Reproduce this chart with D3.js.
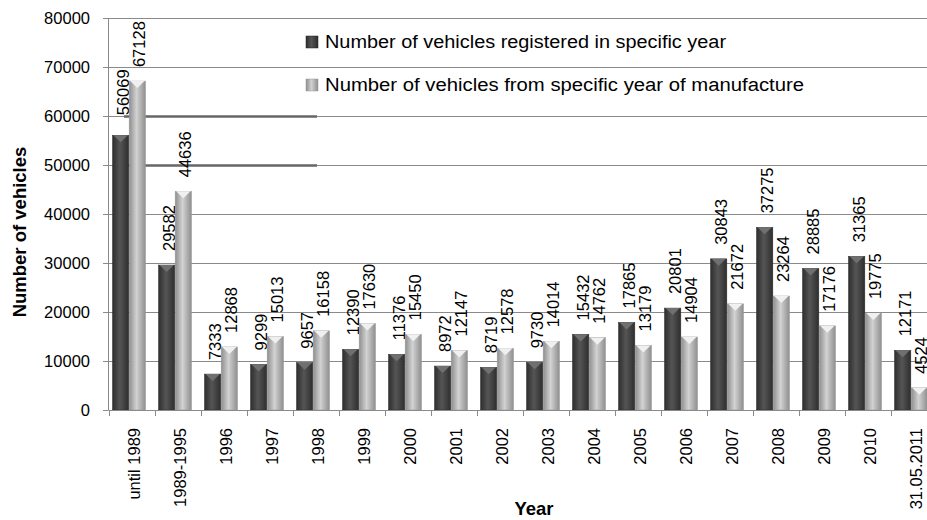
<!DOCTYPE html>
<html lang="en">
<head>
<meta charset="UTF-8">
<title>Number of vehicles</title>
<script src="https://cdn.jsdelivr.net/npm/d3@7"></script>
<style>
  body { margin: 0; background: #fff; }
  text { font-family: "Liberation Sans", Arial, sans-serif; fill: #000; }
</style>
</head>
<body>
<div id="chart"></div>
<script>
// data
var years = ["until 1989", "1989-1995", "1996", "1997", "1998", "1999", "2000", "2001", "2002",
  "2003", "2004", "2005", "2006", "2007", "2008", "2009", "2010", "31.05.2011"];
var registered = [56069, 29582, 7333, 9299, 9657, 12390, 11376, 8972, 8719, 9730, 15432,
  17865, 20801, 30843, 37275, 28885, 31365, 12171];
var manufactured = [67128, 44636, 12868, 15013, 16158, 17630, 15450, 12147, 12578, 14014,
  14762, 13179, 14904, 21672, 23264, 17176, 19775, 4524];
var seriesNames = ["Number of vehicles registered in specific year",
  "Number of vehicles from specific year of manufacture"];
var yTicks = [0, 10000, 20000, 30000, 40000, 50000, 60000, 70000, 80000];

var width = 927, height = 520;
var svg = d3.select("#chart").append("svg").attr("width", width).attr("height", height);

var x = d3.scaleBand().domain(years).range([108.5, 936.5]);
var inner = d3.scaleBand().domain([0, 1]).range([4, 37]).paddingInner(0.02);
var y = d3.scaleLinear().domain([0, 80000]).range([410, 18]);

// gradients (cylinder look)
var defs = svg.append("defs");
function grad(id, edge, mid) {
  var g = defs.append("linearGradient").attr("id", id).attr("x1", 0).attr("x2", 1).attr("y1", 0).attr("y2", 0);
  g.append("stop").attr("offset", "0%").attr("stop-color", edge);
  g.append("stop").attr("offset", "45%").attr("stop-color", mid);
  g.append("stop").attr("offset", "100%").attr("stop-color", edge);
}
grad("gDark", "#2e2e2e", "#555555");
grad("gLight", "#8e8e8e", "#d2d2d2");
var fills = ["url(#gDark)", "url(#gLight)"];
var capFill = ["#707070", "#f0f0f0"];

// gridlines
svg.append("g").selectAll("line").data(yTicks.slice(1)).enter().append("line")
  .attr("x1", 108.5).attr("x2", width)
  .attr("y1", function(d) { return Math.round(y(d)) + 0.5; })
  .attr("y2", function(d) { return Math.round(y(d)) + 0.5; })
  .attr("stroke", "#8a8a8a").attr("stroke-width", 1);

// dark strokes over the 50000 / 60000 gridlines (as in the picture)
svg.append("g").selectAll("line").data([50000, 60000]).enter().append("line")
  .attr("x1", 124).attr("x2", 317)
  .attr("y1", function(d) { return Math.round(y(d)) + 0.5; })
  .attr("y2", function(d) { return Math.round(y(d)) + 0.5; })
  .attr("stroke", "#666").attr("stroke-width", 2.5);

// bars
var series = [registered, manufactured];
series.forEach(function(vals, s) {
  var g = svg.append("g");
  g.selectAll("rect.bar").data(vals).enter().append("rect")
    .attr("class", "bar")
    .attr("x", function(d, i) { return x(years[i]) + inner(s); })
    .attr("width", inner.bandwidth())
    .attr("y", function(d) { return y(d); })
    .attr("height", function(d) { return y(0) - y(d); })
    .attr("fill", fills[s])
    .attr("stroke", s ? "#9a9a9a" : "#2a2a2a").attr("stroke-width", 0.5);
  // small top cap
  g.selectAll("path.cap").data(vals).enter().append("path")
    .attr("class", "cap")
    .attr("d", function(d, i) {
      var x0 = x(years[i]) + inner(s), w = inner.bandwidth(), t = y(d);
      return "M" + (x0 + 1) + "," + t + "L" + (x0 + w - 1) + "," + t + "L" + (x0 + w / 2) + "," + (t + 7) + "Z";
    })
    .attr("fill", capFill[s]);
  // value labels
  g.selectAll("text").data(vals).enter().append("text")
    .attr("transform", function(d, i) {
      var cx = x(years[i]) + inner(s) + inner.bandwidth() / 2 + 8;
      var off = (s === 0 && i === 0) ? 20 : 14;
      return "translate(" + cx + "," + (y(d) - off) + ") rotate(-90)";
    })
    .attr("font-size", 16.5)
    .text(function(d) { return d; });
});

// y axis
svg.append("line").attr("x1", 108.5).attr("x2", 108.5).attr("y1", y(80000)).attr("y2", y(0))
  .attr("stroke", "#8a8a8a");
svg.append("g").selectAll("line").data(yTicks).enter().append("line")
  .attr("x1", 103).attr("x2", 108.5)
  .attr("y1", function(d) { return Math.round(y(d)) + 0.5; })
  .attr("y2", function(d) { return Math.round(y(d)) + 0.5; })
  .attr("stroke", "#8a8a8a");
svg.append("g").selectAll("text").data(yTicks).enter().append("text")
  .attr("x", 90).attr("y", function(d) { return y(d) + 6; })
  .attr("text-anchor", "end").attr("font-size", 16.5)
  .text(function(d) { return d; });

// x axis
svg.append("line").attr("x1", 108.5).attr("x2", width).attr("y1", 410.5).attr("y2", 410.5)
  .attr("stroke", "#8a8a8a");
svg.append("g").selectAll("line").data(years).enter().append("line")
  .attr("x1", function(d) { return Math.round(x(d)) + 0.5; })
  .attr("x2", function(d) { return Math.round(x(d)) + 0.5; })
  .attr("y1", 410.5).attr("y2", 416)
  .attr("stroke", "#8a8a8a");
svg.append("g").selectAll("text").data(years).enter().append("text")
  .attr("transform", function(d) {
    return "translate(" + (x(d) + x.bandwidth() / 2 + 8) + ",428) rotate(-90)";
  })
  .attr("text-anchor", "end").attr("font-size", 16.5)
  .text(function(d) { return d; });

// axis titles
svg.append("text").attr("transform", "translate(26,232) rotate(-90)")
  .attr("text-anchor", "middle").attr("font-size", 18.5).attr("font-weight", "bold")
  .text("Number of vehicles");
svg.append("text").attr("x", 534).attr("y", 515)
  .attr("text-anchor", "middle").attr("font-size", 18.5).attr("font-weight", "bold")
  .text("Year");

// legend
var legend = svg.append("g");
seriesNames.forEach(function(name, i) {
  var ly = 42 + i * 43;
  legend.append("rect").attr("x", 306).attr("y", ly - 6).attr("width", 12).attr("height", 12)
    .attr("fill", fills[i]).attr("stroke", i ? "#999" : "#222").attr("stroke-width", 0.5);
  legend.append("text").attr("x", 325).attr("y", ly + 6)
    .attr("font-family", "'Open Sans', sans-serif").attr("font-size", 18)
    .attr("textLength", i ? 479 : 401).attr("lengthAdjust", "spacingAndGlyphs")
    .text(name);
});
</script>
</body>
</html>
